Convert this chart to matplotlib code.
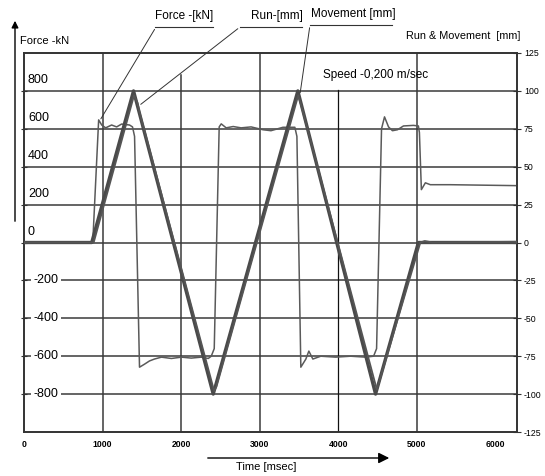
import numpy as np
import matplotlib
matplotlib.use("Agg")
import matplotlib.pyplot as plt
from matplotlib.lines import Line2D

plt.rcParams['font.family'] = ['Liberation Sans', 'DejaVu Sans']

# force trace [kN] vs time [ms]
force_t = [0, 875, 950, 989, 1039, 1115, 1179, 1242, 1343, 1381, 1407, 1470, 1534, 1597,
           1660, 1749, 1876, 2003, 2129, 2256, 2345, 2383, 2421, 2484, 2510, 2573, 2662,
           2763, 2890, 3042, 3143, 3295, 3447, 3473, 3523, 3587, 3625, 3676, 3777, 3967,
           4157, 4347, 4449, 4487, 4550, 4588, 4639, 4689, 4753, 4829, 4956, 5019, 5032,
           5057, 5108, 5171, 5425, 6274]
force_kn = [0, 0, 647, 620, 605, 620, 610, 625, 620, 610, 560, -658, -642, -625,
            -615, -605, -612, -605, -610, -605, -612, -600, -560, 610, 626, 605, 612,
            605, 610, 595, 590, 608, 608, 560, -658, -615, -573, -615, -600, -605,
            -600, -605, -600, -560, 600, 663, 610, 590, 595, 615, 618, 615, 580,
            279, 315, 305, 305, 300]

# movement [mm]
move_t = [0, 862, 1394, 2408, 3485, 4474, 5019, 6274]
move_mm = [0, 0, 100, -100, 100, -100, 0, 0]

# run [mm]
run_t = [0, 887, 1400, 1445, 1470, 2420, 2450, 3490, 3530, 4490, 4520, 5044, 5100, 5200, 6274]
run_mm = [0, 0, 97, 92, 86, -98, -95, 97, 90, -97, -92, 0, 1, 0, 0.5]

force_levels = [-800, -600, -400, -200, 0, 200, 400, 600, 800]
mm_ticks = [-125, -100, -75, -50, -25, 0, 25, 50, 75, 100, 125]
time_ticks = [0, 1000, 2000, 3000, 4000, 5000, 6000]
grid_times = [1000, 2000, 3000, 4000, 5000]

W, H = 545, 476
fig = plt.figure(figsize=(W / 100, H / 100), dpi=100)
ax = fig.add_axes([24 / W, 1 - 432 / H, (517 - 24) / W, (432 - 53) / H])
ax2 = ax.twinx()

gc = '#3a3a3a'
ax.set_xlim(0, 6274)
ax.set_ylim(-1000, 1000)
ax2.set_ylim(-125, 125)

for sp in list(ax.spines.values()) + list(ax2.spines.values()):
    sp.set_color('#333333')
    sp.set_linewidth(1.2)

# horizontal grid
for lv in force_levels:
    ax.axhline(lv, color=gc, lw=1.1, zorder=1)

# vertical grid (2000 and 4000 lines stop short of the top)
tops = {1000: 1.0, 2000: 0.942, 3000: 1.0, 4000: 0.902, 5000: 1.0}
for t in grid_times:
    ax.axvline(t, ymax=tops[t], color='#111111' if t == 4000 else gc,
               lw=0.9 if t == 4000 else 1.1, zorder=1)

# curves
ax.plot(force_t, force_kn, color='#5a5a5a', lw=1.1, zorder=3)
ax2.plot(move_t, move_mm, color='#4a4a4a', lw=2.4, zorder=3)
ax2.plot(run_t, run_mm, color='#555555', lw=1.3, zorder=3)

# left labels
for lv in force_levels:
    if lv >= 0:
        ax.text(50, lv + 55, str(lv), fontsize=9, ha='left', va='center', zorder=4)
    else:
        ax.text(280, lv, str(lv), fontsize=9, ha='center', va='center', zorder=4,
                bbox=dict(facecolor='white', edgecolor='none', pad=1.5))

ax.set_yticks(force_levels)
ax.set_yticklabels([])
ax.tick_params(axis='y', direction='inout', length=4, color='#333333')
ax.set_xticks(time_ticks)
ax.set_xticklabels([str(t) for t in time_ticks], fontsize=6.2, fontweight='bold')
ax.tick_params(axis='x', length=0, pad=6)

ax2.set_yticks(mm_ticks)
ax2.set_yticklabels([str(t) for t in mm_ticks], fontsize=6.3)
ax2.tick_params(axis='y', direction='inout', length=6, pad=2, color='#333333')

# texts
def fx(x):
    return x / W

def fy(y):
    return 1 - y / H

fig.text(fx(20), fy(41), 'Force -kN', fontsize=8, ha='left', va='center')
fig.text(fx(520), fy(36), 'Run & Movement  [mm]', fontsize=7.8, ha='right', va='center')
fig.text(fx(323), fy(75), 'Speed -0,200 m/sec', fontsize=8.5, ha='left', va='center')
fig.text(fx(155), fy(16), 'Force -[kN]', fontsize=8.5, ha='left', va='center')
fig.text(fx(251), fy(16), 'Run-[mm]', fontsize=8.5, ha='left', va='center')
fig.text(fx(311), fy(14), 'Movement [mm]', fontsize=8.5, ha='left', va='center')
fig.text(fx(236), fy(467), 'Time [msec]', fontsize=8, ha='left', va='center')

# underlines
for x0, x1, y in [(155, 213, 27), (240, 302, 27), (310, 392, 25)]:
    fig.add_artist(Line2D([fx(x0), fx(x1)], [fy(y), fy(y)], color='#333333', lw=0.8))

# leader lines
ax.annotate('', xy=(960, 640), xytext=(fx(156), fy(27)), textcoords='figure fraction',
            arrowprops=dict(arrowstyle='-', color='#333333', lw=0.7), annotation_clip=False)
ax2.annotate('', xy=(1458, 90), xytext=(fx(240), fy(27)), textcoords='figure fraction',
             arrowprops=dict(arrowstyle='-', color='#333333', lw=0.7), annotation_clip=False)
ax2.annotate('', xy=(3510, 97), xytext=(fx(310), fy(25)), textcoords='figure fraction',
             arrowprops=dict(arrowstyle='-', color='#333333', lw=0.7), annotation_clip=False)

# axis arrows
ax.annotate('', xy=(fx(15), fy(18)), xytext=(fx(15), fy(224)), xycoords='figure fraction',
            arrowprops=dict(arrowstyle='-|>', color='black', lw=1.0, mutation_scale=10),
            annotation_clip=False)
ax.annotate('', xy=(fx(392), fy(458)), xytext=(fx(205), fy(458)), xycoords='figure fraction',
            arrowprops=dict(arrowstyle='-|>', color='black', lw=1.0, mutation_scale=16),
            annotation_clip=False)

fig.savefig('out.png', dpi=100)
